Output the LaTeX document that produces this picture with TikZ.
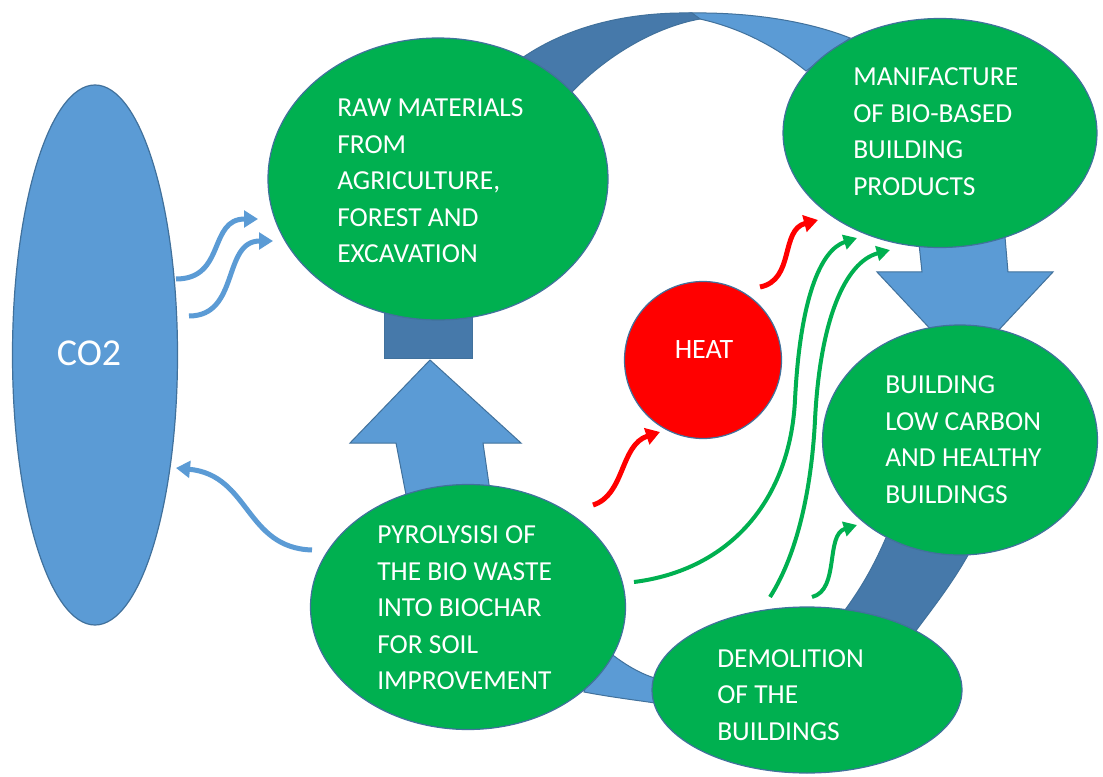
\documentclass[tikz,border=0pt]{standalone}
\usepackage{fontspec}
\setmainfont{Carlito}
\usetikzlibrary{shapes.geometric,arrows.meta}
\definecolor{leaf}{HTML}{00B050}
\definecolor{sky}{HTML}{5B9BD5}
\definecolor{deep}{HTML}{4679AA}
\definecolor{rim}{HTML}{41719C}
\definecolor{hot}{HTML}{FF0000}

\begin{document}
\begin{tikzpicture}[x=0.75pt,y=-0.75pt,
  stage/.style={ellipse, draw=rim, line width=0.9pt, fill=leaf, inner sep=0pt},
  caption/.style={text=white, align=left, inner sep=0pt, anchor=west,
    font=\fontsize{20.6pt}{27.4pt}\selectfont},
  band/.style={draw=rim, line width=0.75pt},
  bluewave/.style={draw=sky, line width=3.75pt, -{Triangle[width=12.5pt,length=10.5pt]}},
  greenwave/.style={draw=leaf, line width=3pt, -{Triangle[width=11pt,length=10pt]}},
  redwave/.style={draw=hot, line width=3.75pt, -{Triangle[width=12.5pt,length=10.5pt]}},
]
\fill[white] (0,0) rectangle (1103,777);
\useasboundingbox (0,0) rectangle (1103,777);

% ---- the cycle ring behind the stages ----
% top arc: raw materials -> manufacture
\path[band, fill=sky] (690,13) .. controls (760,12) and (815,24) .. (850,38)
  -- (806,71) .. controls (775,46) and (740,28) .. (700,19) -- cycle;
\path[band, fill=deep] (522,58) .. controls (570,25) and (630,12) .. (692,13)
  -- (700,19) .. controls (660,26) and (610,52) .. (572,92) -- cycle;
% right arc: low carbon buildings -> demolition
\path[band, fill=deep] (890,528) .. controls (875,565) and (860,590) .. (842,614)
  -- (915,632) .. controls (935,605) and (955,580) .. (973,546) -- cycle;
% bottom arc: demolition -> pyrolysis
\path[band, fill=sky] (598,643) .. controls (620,662) and (640,675) .. (662,680)
  -- (662,704) .. controls (635,700) and (610,697) .. (584,692) -- cycle;
% back face under raw materials
\path[band, fill=deep] (384,300) rectangle (472,358);
% block arrow: pyrolysis -> raw materials
\path[band, fill=sky] (430,360) -- (521,443) -- (483,443) -- (492,505)
  -- (408,505) -- (396,443) -- (350,443) -- cycle;
% block arrow: manufacture -> low carbon buildings
\path[band, fill=sky] (917,225) -- (1004,225) -- (1008,272) -- (1053,272)
  -- (965,366) -- (877,272) -- (922,272) -- cycle;

% ---- stages ----
\node[ellipse, draw=rim, line width=0.9pt, fill=sky, inner sep=0pt,
  minimum width=123.75pt, minimum height=405pt] (co2) at (95,355) {};
\node[stage, minimum width=255pt, minimum height=211.5pt] (raw) at (438,179) {};
\node[stage, minimum width=235.5pt, minimum height=171.75pt] (manu) at (940,133) {};
\node[stage, minimum width=206.25pt, minimum height=172.5pt] (build) at (960,440) {};
\node[stage, minimum width=236.25pt, minimum height=183.75pt] (pyro) at (468,607) {};
\node[stage, minimum width=232.5pt, minimum height=124.5pt] (demo) at (807,690) {};
\node[circle, draw=rim, line width=0.9pt, fill=hot, inner sep=0pt,
  minimum size=117.75pt] (heat) at (703,360) {};

% ---- texts ----
\node[text=white, inner sep=0pt, font=\fontsize{28.5pt}{32pt}\selectfont] (co2txt) at (89,353) {CO2};
\node[text=white, inner sep=0pt, font=\fontsize{21pt}{27.4pt}\selectfont] (heattxt) at (704,350) {HEAT};
\node[caption] (rawtxt) at (337,181) {RAW MATERIALS\\FROM\\AGRICULTURE,\\FOREST AND\\EXCAVATION};
\node[caption] (manutxt) at (853,131.5) {MANIFACTURE\\OF BIO-BASED\\BUILDING\\PRODUCTS};
\node[caption] (buildtxt) at (885,439.5) {BUILDING\\LOW CARBON\\AND HEALTHY\\BUILDINGS};
\node[caption] (pyrotxt) at (377,608) {PYROLYSISI OF\\THE BIO WASTE\\INTO BIOCHAR\\FOR SOIL\\IMPROVEMENT};
\node[caption] (demotxt) at (717,695) {DEMOLITION\\OF THE\\BUILDINGS};

% ---- flow arrow ends ----
\coordinate (co2outA) at (176,279);  \coordinate (rawinA) at (258,219);
\coordinate (co2outB) at (189,316);  \coordinate (rawinB) at (273,241);
\coordinate (pyroout) at (312,550);  \coordinate (co2in) at (176,468);
\coordinate (pyrohot) at (593,505);  \coordinate (heatin) at (660,432);
\coordinate (heatout) at (760,287);  \coordinate (manuhot) at (818,220);
\coordinate (pyrogreen) at (634,582); \coordinate (manuinA) at (857,238);
\coordinate (demogreenA) at (770,597); \coordinate (manuinB) at (890,250);
\coordinate (demogreenB) at (812,597); \coordinate (buildin) at (857,525);

% carbon uptake and release
\draw[bluewave] (co2outA) .. controls (226,279) and (208,219) .. (rawinA);
\draw[bluewave] (co2outB) .. controls (240,316) and (222,241) .. (rawinB);
\draw[bluewave] (pyroout) .. controls (245,548) and (250,475) .. (co2in);
% heat flows
\draw[redwave] (pyrohot) .. controls (625,495) and (620,445) .. (heatin);
\draw[redwave] (heatout) .. controls (795,280) and (780,230) .. (manuhot);
% material flows
\draw[greenwave] (pyrogreen) .. controls (730,570) and (790,500) .. (795,400)
  .. controls (800,300) and (820,250) .. (manuinA);
\draw[greenwave] (demogreenA) .. controls (800,550) and (812,480) .. (815,420)
  .. controls (820,320) and (845,262) .. (manuinB);
\draw[greenwave] (demogreenB) .. controls (840,590) and (825,535) .. (buildin);
\end{tikzpicture}
\end{document}
